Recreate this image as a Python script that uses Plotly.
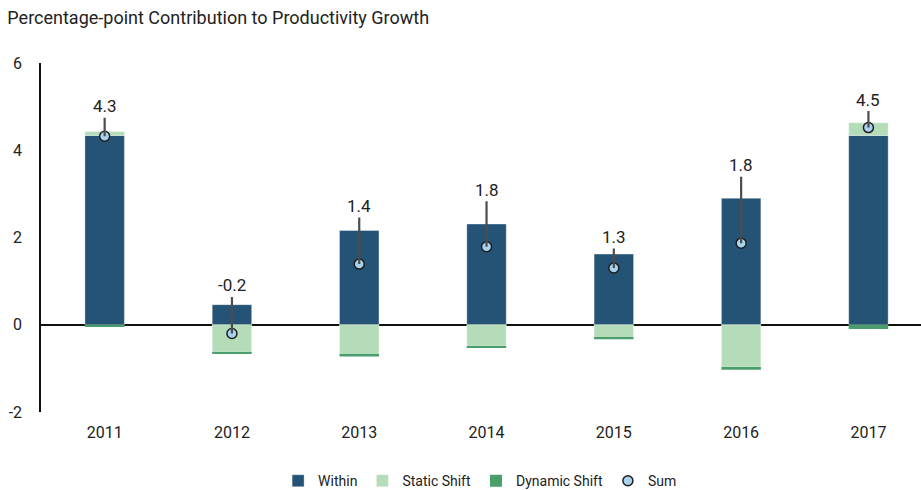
import plotly.graph_objects as go

years = ["2011", "2012", "2013", "2014", "2015", "2016", "2017"]
within = [4.34, 0.46, 2.16, 2.31, 1.62, 2.90, 4.34]
static_shift = [0.09, -0.63, -0.69, -0.49, -0.30, -0.97, 0.29]
dynamic_shift = [-0.05, -0.03, -0.04, -0.03, -0.03, -0.06, -0.10]
sum_values = [4.32, -0.20, 1.39, 1.79, 1.30, 1.87, 4.52]
sum_labels = ["4.3", "-0.2", "1.4", "1.8", "1.3", "1.8", "4.5"]
label_offsets = [-30, -48, -58, -57, -31, -78, -28]
y_ticks = [-2, 0, 2, 4, 6]
y_tick_text = ["-2", "0", "2", "4", "6"]

FONT = "Roboto"
fig = go.Figure()
bar_line = dict(width=0.6, color="rgba(255,255,255,0.6)")
fig.add_trace(go.Bar(x=years, y=within, name="Within", marker=dict(color="#255375", line=bar_line), width=0.31))
fig.add_trace(go.Bar(x=years, y=static_shift, name="Static Shift", marker=dict(color="#b4dcb9", line=bar_line), width=0.31))
fig.add_trace(go.Bar(x=years, y=dynamic_shift, name="Dynamic Shift", marker=dict(color="#4a9e6c", line=dict(width=0)), width=0.31))
fig.add_trace(go.Scatter(x=years, y=sum_values, name="Sum", mode="markers",
                         marker=dict(size=10, color="#a9d2ef", line=dict(color="#1e1e1e", width=1.5))))

for i, (v, lab, off) in enumerate(zip(sum_values, sum_labels, label_offsets)):
    fig.add_annotation(x=i, y=v, xref="x", yref="y", text=lab, showarrow=True, arrowhead=0,
                       arrowwidth=2.2, arrowcolor="#4d4d4d", ax=0, ay=off, standoff=0,
                       font=dict(family=FONT, size=17, color="#222"))

fig.update_layout(
    barmode="relative",
    width=921, height=490,
    autotypenumbers="strict",
    margin=dict(l=41, r=0, t=63, b=78),
    plot_bgcolor="white", paper_bgcolor="white",
    font=dict(family=FONT, size=16, color="#222"),
    title=dict(text="Percentage-point Contribution to Productivity Growth", x=0.008, xanchor="left",
               y=0.963, yanchor="middle", font=dict(family=FONT, size=18, color="#222")),
    legend=dict(orientation="h", x=0.499, xanchor="center", yref="container", y=0.018, yanchor="middle",
                font=dict(family=FONT, size=14, color="#222"), itemwidth=30, traceorder="normal"),
    showlegend=True,
)
fig.update_xaxes(type="category", range=[-0.5, 6.413], showline=False, ticks="", showgrid=False,
                 tickfont=dict(size=16), ticklabelstandoff=9)
fig.update_yaxes(range=[-2, 6], tickvals=y_ticks, ticktext=y_tick_text, showgrid=False, showline=True,
                 linecolor="#111", linewidth=1.5,
                 zeroline=True, zerolinecolor="#111", zerolinewidth=1.5, ticks="",
                 tickfont=dict(size=16), ticklabelstandoff=14, layer="above traces")

fig.write_html("out.html", config={"displayModeBar": False},
               post_script="document.body.style.margin='0';")
